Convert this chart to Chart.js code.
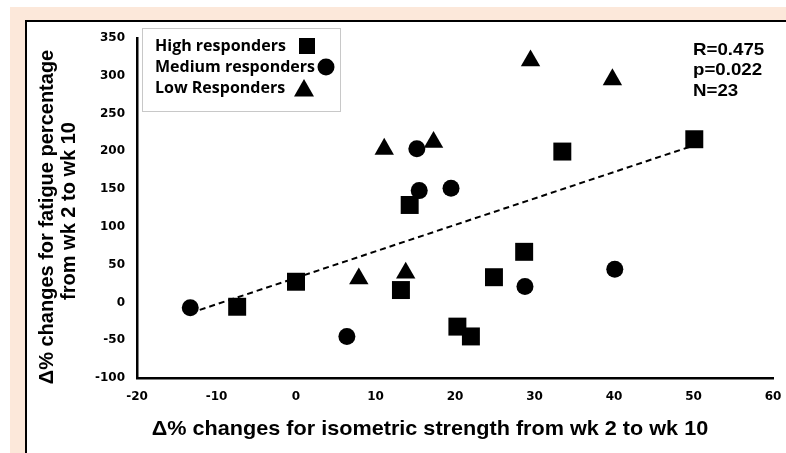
<!DOCTYPE html>
<html>
<head>
<meta charset="utf-8">
<script src="https://cdn.jsdelivr.net/npm/chart.js@4.4.1/dist/chart.umd.min.js"></script>
<style>
    body { margin: 0; background: #ffffff; }
    #frame { position: absolute; left: 10px; top: 7px; width: 776px; height: 446px; background: #fce8da; }
    #panel { position: absolute; left: 25px; top: 20px; right: 0; bottom: 0; background: #ffffff;
             border-top: 2px solid #000; border-left: 2px solid #000; }
    canvas { position: absolute; left: 0; top: 0; }
</style>
</head>
<body>
<div id="frame"></div>
<div id="panel"></div>
<canvas id="scatterChart" width="786" height="453"></canvas>
<script>
// Datos (x = fuerza isometrica, y = fatiga)
const highX = [-7.4, 0, 13.2, 14.3, 20.3, 22, 24.9, 28.7, 33.5, 50.1];
const highY = [-5.7, 27.4, 16.4, 129, -32, -45, 33.4, 67, 199.7, 216];
const mediumX = [-13.3, 6.4, 15.2, 15.5, 19.5, 28.8, 40.1];
const mediumY = [-7, -45, 203.5, 148, 151, 21, 44];
const lowX = [7.9, 13.8, 11.1, 17.3, 29.5, 39.8];
const lowY = [31.5, 39, 203, 212, 320, 295];
const trendX = [-13.3, 50.1];
const trendY = [-14, 208];

const xTicks = [-20, -10, 0, 10, 20, 30, 40, 50, 60];
const yTicks = [-100, -50, 0, 50, 100, 150, 200, 250, 300, 350];

const legendLabels = ['High responders', 'Medium responders', 'Low Responders'];
const statsLines = ['R=0.475', 'p=0.022', 'N=23'];

function toPoints(xs, ys) {
    return xs.map((x, i) => ({ x: x, y: ys[i] }));
}

// texto ensanchado un poco, como en la figura original
function wideText(ctx, text, x, y, sx) {
    ctx.save();
    ctx.translate(x, y);
    ctx.scale(sx, 1);
    ctx.fillText(text, 0, 0);
    ctx.restore();
}

// Leyenda, titulos de ejes y estadisticas
const extrasPlugin = {
    id: 'extras',
    afterDraw(chart) {
        const ctx = chart.ctx;
        ctx.save();

        // caja de leyenda
        ctx.strokeStyle = '#c8c8c8';
        ctx.lineWidth = 1;
        ctx.strokeRect(142.5, 28.5, 198, 83);
        ctx.fillStyle = '#000';
        ctx.font = 'bold 16px "Open Sans"';
        ctx.textAlign = 'left';
        ctx.textBaseline = 'middle';
        const rows = [46, 67, 88];
        legendLabels.forEach((t, i) => ctx.fillText(t, 155, rows[i]));
        // marcadores
        ctx.fillRect(299, 38, 16, 16);
        ctx.beginPath();
        ctx.arc(326, 67, 8.5, 0, Math.PI * 2);
        ctx.fill();
        ctx.beginPath();
        ctx.moveTo(304, 79);
        ctx.lineTo(314, 96.5);
        ctx.lineTo(294, 96.5);
        ctx.closePath();
        ctx.fill();

        // estadisticas
        ctx.font = 'bold 17px "Liberation Sans", Arial';
        statsLines.forEach((t, i) => wideText(ctx, t, 693, 50 + i * 20.5, 1.1));

        // titulo eje x
        ctx.font = 'bold 21px "Liberation Sans", Arial';
        ctx.textAlign = 'center';
        wideText(ctx, '\u0394% changes for isometric strength from wk 2 to wk 10', 430, 429, 1.03);

        // titulo eje y (dos lineas)
        ctx.font = 'bold 20px "Liberation Sans", Arial';
        ctx.translate(47, 217);
        ctx.rotate(-Math.PI / 2);
        ctx.fillText('\u0394% changes for fatigue percentage', 0, 0);
        ctx.fillText('from wk 2 to wk 10', 6, 22);
        ctx.restore();
    }
};

const tickFont = { family: '"DejaVu Sans"', size: 12, weight: 'bold' };

const ctx = document.getElementById('scatterChart').getContext('2d');
new Chart(ctx, {
    type: 'scatter',
    data: {
        datasets: [{
            label: legendLabels[0],
            data: toPoints(highX, highY),
            pointStyle: 'rect',
            pointRadius: 12.7,
            backgroundColor: '#000',
            borderWidth: 0,
            order: 0
        }, {
            label: legendLabels[1],
            data: toPoints(mediumX, mediumY),
            pointStyle: 'circle',
            pointRadius: 8.5,
            backgroundColor: '#000',
            borderWidth: 0,
            order: 0
        }, {
            label: legendLabels[2],
            data: toPoints(lowX, lowY),
            pointStyle: 'triangle',
            pointRadius: 11.2,
            backgroundColor: '#000',
            borderWidth: 0,
            order: 0
        }, {
            label: 'Tendencia',
            data: toPoints(trendX, trendY),
            showLine: true,
            borderColor: '#000',
            borderWidth: 2,
            borderDash: [6, 4],
            pointRadius: 0,
            order: 1
        }]
    },
    options: {
        responsive: false,
        animation: false,
        devicePixelRatio: 1,
        layout: { padding: { left: 0, right: 13, top: 38, bottom: 50 } },
        scales: {
            x: {
                type: 'linear',
                min: -20,
                max: 60,
                afterBuildTicks: (axis) => { axis.ticks = xTicks.map(v => ({ value: v })); },
                afterFit: (axis) => {
                    axis.height = 25;
                    axis.paddingLeft = 0;
                    axis.paddingRight = 0;
                },
                ticks: { color: '#000', font: tickFont, padding: 12 },
                grid: { display: false, drawTicks: false },
                border: { display: true, color: '#000', width: 2.5 }
            },
            y: {
                type: 'linear',
                min: -100,
                max: 350,
                afterBuildTicks: (axis) => { axis.ticks = yTicks.map(v => ({ value: v })); },
                afterFit: (axis) => { axis.width = 137; },
                ticks: { color: '#000', font: tickFont, padding: 12 },
                grid: { display: false, drawTicks: false },
                border: { display: true, color: '#000', width: 2.5 }
            }
        },
        plugins: {
            legend: { display: false },
            tooltip: { enabled: false }
        }
    },
    plugins: [extrasPlugin]
});
</script>
</body>
</html>
